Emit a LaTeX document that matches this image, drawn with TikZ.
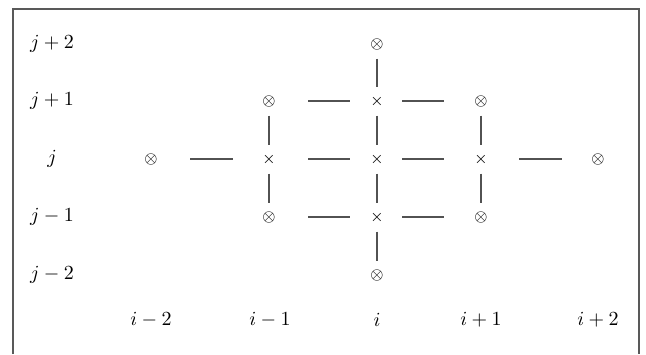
\documentclass[tikz,border=0pt]{standalone}
\begin{document}
\begin{tikzpicture}[x=0.5pt,y=-0.5pt,
  lab/.style={inner sep=0pt, font=\normalsize},
  pt/.style={inner sep=0pt, font=\footnotesize},
  seg/.style={draw=black!68, line width=0.8pt},
  vseg/.style={seg, shorten <=7.25pt, shorten >=7.25pt},
  frameline/.style={draw=black!65, line width=1.3pt}]
\useasboundingbox (0,0) rectangle (646,354);
% frame (open at the bottom)
\coordinate (fbl) at (13,354);
\coordinate (ftl) at (13,9);
\coordinate (ftr) at (639,9);
\coordinate (fbr) at (639,354);
\draw[frameline] (fbl) -- (ftl) -- (ftr) -- (fbr);
% row labels
\node[lab] (ljp2) at (52,44)  {$j+2$};
\node[lab] (ljp1) at (52,101) {$j+1$};
\node[lab] (lj)   at (52,159) {$j$};
\node[lab] (ljm1) at (52,217) {$j-1$};
\node[lab] (ljm2) at (52,275) {$j-2$};
% column labels
\node[lab] (lim2) at (151,320) {$i-2$};
\node[lab] (lim1) at (270,320) {$i-1$};
\node[lab] (li)   at (377,320) {$i$};
\node[lab] (lip1) at (481,320) {$i+1$};
\node[lab] (lip2) at (598,320) {$i+2$};
% grid points
\node[pt] (m2-0)  at (151,159) {$\otimes$};
\node[pt] (m1-p1) at (269,101) {$\otimes$};
\node[pt] (m1-0)  at (269,159) {$\times$};
\node[pt] (m1-m1) at (269,217) {$\otimes$};
\node[pt] (c-p2)  at (377,44)  {$\otimes$};
\node[pt] (c-p1)  at (377,101) {$\times$};
\node[pt] (c-0)   at (377,159) {$\times$};
\node[pt] (c-m1)  at (377,217) {$\times$};
\node[pt] (c-m2)  at (377,275) {$\otimes$};
\node[pt] (p1-p1) at (481,101) {$\otimes$};
\node[pt] (p1-0)  at (481,159) {$\times$};
\node[pt] (p1-m1) at (481,217) {$\otimes$};
\node[pt] (p2-0)  at (598,159) {$\otimes$};
% horizontal connectors
\draw[seg, shorten <=19.5pt, shorten >=18pt]   (m2-0.center) -- (m1-0.center);
\draw[seg, shorten <=19.5pt, shorten >=13.5pt] (m1-p1.center) -- (c-p1.center);
\draw[seg, shorten <=19.5pt, shorten >=13.5pt] (m1-0.center) -- (c-0.center);
\draw[seg, shorten <=19.5pt, shorten >=13.5pt] (m1-m1.center) -- (c-m1.center);
\draw[seg, shorten <=12.5pt, shorten >=18.5pt] (c-p1.center) -- (p1-p1.center);
\draw[seg, shorten <=12.5pt, shorten >=18.5pt] (c-0.center) -- (p1-0.center);
\draw[seg, shorten <=12.5pt, shorten >=18.5pt] (c-m1.center) -- (p1-m1.center);
\draw[seg, shorten <=19pt, shorten >=18pt]     (p1-0.center) -- (p2-0.center);
% vertical connectors
\draw[vseg] (m1-p1.center) -- (m1-0.center);
\draw[vseg] (m1-0.center) -- (m1-m1.center);
\draw[vseg] (c-p2.center) -- (c-p1.center);
\draw[vseg] (c-p1.center) -- (c-0.center);
\draw[vseg] (c-0.center) -- (c-m1.center);
\draw[vseg] (c-m1.center) -- (c-m2.center);
\draw[vseg] (p1-p1.center) -- (p1-0.center);
\draw[vseg] (p1-0.center) -- (p1-m1.center);
\end{tikzpicture}
\end{document}
